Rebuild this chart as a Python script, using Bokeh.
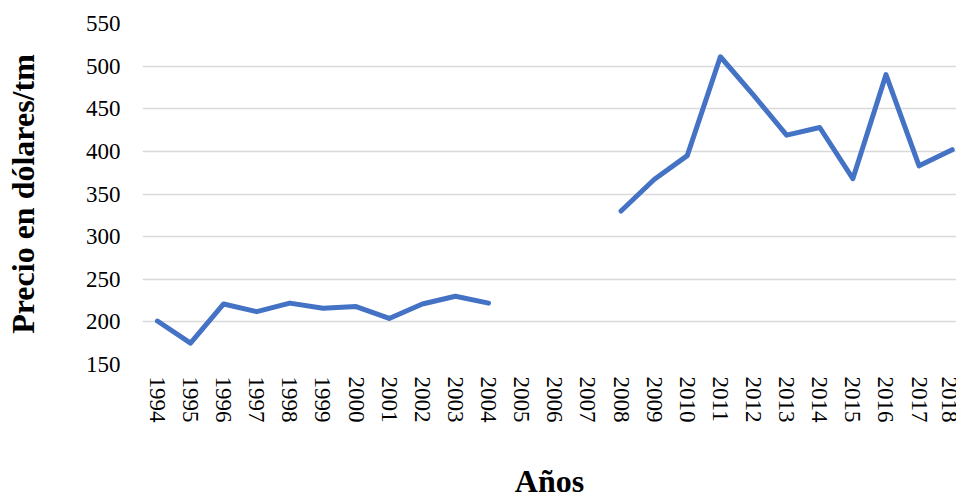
import numpy as np
from bokeh.plotting import figure
from bokeh.models import FixedTicker, Range1d
from bokeh.embed import file_html
from bokeh.resources import INLINE

years = list(range(1994, 2019))
prices = [201, 175, 221, 212, 222, 216, 218, 204, 221, 230, 222,
          np.nan, np.nan, np.nan,
          330, 367, 395, 511, 466, 419, 428, 368, 490, 383, 402]
y_ticks = [150, 200, 250, 300, 350, 400, 450, 500, 550]
x_title = "Años"
y_title = "Precio en dólares/tm"

FONT = "Liberation Serif"

p = figure(width=956, height=501, output_backend="svg", toolbar_location=None,
           x_range=Range1d(1993.55, 2018.13), y_range=Range1d(150, 550),
           min_border_left=142, min_border_right=0, min_border_top=23,
           min_border_bottom=137)
p.outline_line_color = None

p.line(years, prices, line_color="#4472C4", line_width=5,
       line_join="round", line_cap="round")

p.xaxis.ticker = FixedTicker(ticks=years)
p.yaxis.ticker = FixedTicker(ticks=y_ticks)
p.xgrid.grid_line_color = None
p.ygrid.grid_line_color = "#d9d9d9"
p.ygrid.grid_line_width = 1.5

for ax in (p.xaxis, p.yaxis):
    ax.axis_line_color = None
    ax.major_tick_line_color = None
    ax.minor_tick_line_color = None
    ax.major_tick_out = 0
    ax.major_tick_in = 0
    ax.major_label_text_font = FONT
    ax.major_label_text_font_size = "23px"
    ax.major_label_text_color = "#000000"
    ax.axis_label_text_font = FONT
    ax.axis_label_text_font_style = "bold"
    ax.axis_label_text_color = "#000000"
    ax.axis_label_text_font_size = "32px"

p.xaxis.major_label_orientation = "vertical"
p.xaxis.major_label_standoff = 12
p.xaxis.axis_label = x_title
p.xaxis.axis_label_standoff = 37

p.yaxis.major_label_standoff = 22
p.yaxis.axis_label = y_title
p.yaxis.axis_label_standoff = 42

open("out.html", "w").write(file_html(p, INLINE))
